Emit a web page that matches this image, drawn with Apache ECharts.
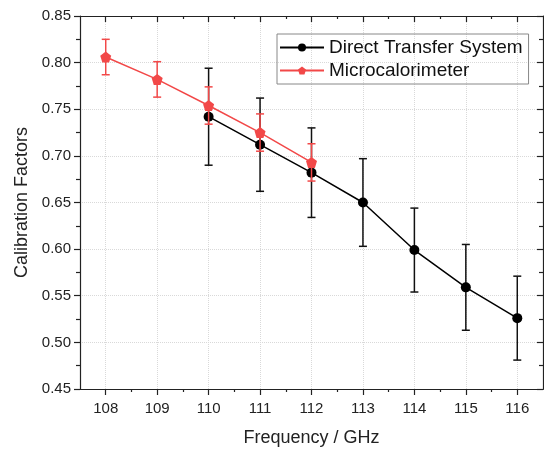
<!DOCTYPE html>
<html>
<head>
<meta charset="utf-8">
<script src="https://cdn.jsdelivr.net/npm/echarts@6/dist/echarts.min.js"></script>
<style>
  html, body { margin: 0; padding: 0; background: #fff; }
  #chart { width: 544px; height: 449px; }
</style>
</head>
<body>
<div id="chart"></div>
<script>
var myChart = echarts.init(document.getElementById('chart'));

// values
var xTicks = [108, 109, 110, 111, 112, 113, 114, 115, 116];
var xMinorTicks = [108.5, 109.5, 110.5, 111.5, 112.5, 113.5, 114.5, 115.5];

var dtsFreq = [110, 111, 112, 113, 114, 115, 116];
var dtsValue = [0.742, 0.712, 0.682, 0.650, 0.599, 0.559, 0.526];
var dtsError = [0.052, 0.050, 0.048, 0.047, 0.045, 0.046, 0.045];

var mcFreq = [108, 109, 110, 111, 112];
var mcValue = [0.806, 0.782, 0.754, 0.725, 0.693];
var mcError = [0.019, 0.019, 0.020, 0.020, 0.020];

var blackColor = '#000000';
var redColor = '#f24848';
var pentagon = 'path://M0,-1L0.951,-0.309L0.588,0.809L-0.588,0.809L-0.951,-0.309Z';
var font = 'Liberation Sans, Arial, sans-serif';

function pairs(xs, ys) {
    var out = [];
    for (var i = 0; i < xs.length; i++) {
        out.push([xs[i], ys[i]]);
    }
    return out;
}

function errRows(xs, ys, es) {
    var out = [];
    for (var i = 0; i < xs.length; i++) {
        out.push([xs[i], ys[i] - es[i], ys[i] + es[i]]);
    }
    return out;
}

function errorBarRenderer(color) {
    return function (params, api) {
        var lo = api.coord([api.value(0), api.value(1)]);
        var hi = api.coord([api.value(0), api.value(2)]);
        var half = 4;
        var style = {stroke: color, lineWidth: 1.5};
        return {
            type: 'group',
            children: [
                {type: 'line', shape: {x1: lo[0], y1: lo[1], x2: hi[0], y2: hi[1]}, style: style},
                {type: 'line', shape: {x1: lo[0] - half, y1: lo[1], x2: lo[0] + half, y2: lo[1]}, style: style},
                {type: 'line', shape: {x1: hi[0] - half, y1: hi[1], x2: hi[0] + half, y2: hi[1]}, style: style}
            ]
        };
    };
}

var axisLineStyle = {color: '#222', width: 1.2};
var gridLine = {show: true, lineStyle: {type: 'dotted', color: '#d9d9d9', width: 1}};

function xAxisBase(pos, inside, values, len, labels) {
    return {
        type: 'value',
        position: pos,
        min: 107.5,
        max: 116.5,
        axisLine: {show: true, onZero: false, lineStyle: axisLineStyle},
        axisTick: {show: true, inside: inside, length: len, customValues: values, lineStyle: {color: '#222', width: 1.2}},
        axisLabel: labels ? {
            show: true, customValues: values, margin: 12,
            color: '#222', fontSize: 15, fontFamily: font
        } : {show: false},
        splitLine: {show: false}
    };
}

function yAxisBase(pos, inside, labels) {
    return {
        type: 'value',
        position: pos,
        min: 0.45,
        max: 0.85,
        interval: 0.05,
        axisLine: {show: true, onZero: false, lineStyle: axisLineStyle},
        axisTick: {show: true, inside: inside, length: 6, lineStyle: {color: '#222', width: 1.2}},
        minorTick: {show: true, splitNumber: 2, length: 4, lineStyle: {color: '#222', width: 1.2}},
        axisLabel: labels ? {
            show: true, margin: 9, color: '#222', fontSize: 15, fontFamily: font,
            formatter: function (v) { return v.toFixed(2); }
        } : {show: false},
        splitLine: {show: false}
    };
}

var xMain = xAxisBase('bottom', false, xTicks, 6, true);
xMain.splitLine = gridLine;
xMain.name = 'Frequency / GHz';
xMain.nameLocation = 'middle';
xMain.nameGap = 40;
xMain.nameTextStyle = {color: '#222', fontSize: 18, fontFamily: font};

var yMain = yAxisBase('left', false, true);
yMain.splitLine = gridLine;
yMain.name = 'Calibration Factors';
yMain.nameLocation = 'middle';
yMain.nameGap = 47;
yMain.nameTextStyle = {color: '#222', fontSize: 18, fontFamily: font};

myChart.setOption({
    backgroundColor: '#fff',
    animation: false,
    grid: {left: 80, right: 1, top: 16, bottom: 60, containLabel: false, outerBoundsMode: 'none'},
    legend: {
        orient: 'vertical',
        left: 277,
        top: 34,
        padding: [4, 6, 4, 2],
        itemGap: 4,
        itemWidth: 44,
        itemHeight: 10,
        borderColor: '#888',
        borderWidth: 1,
        textStyle: {color: '#111', fontSize: 19, fontFamily: font, padding: [0, 0, 0, 0]},
        data: ['Direct Transfer System', 'Microcalorimeter']
    },
    xAxis: [
        xMain,
        xAxisBase('bottom', false, xMinorTicks, 3, false),
        xAxisBase('top', true, xTicks, 6, false),
        xAxisBase('top', true, xMinorTicks, 3, false)
    ],
    yAxis: [
        yMain,
        yAxisBase('right', true, false)
    ],
    series: [
        {
            name: 'DTS error',
            type: 'custom',
            renderItem: errorBarRenderer('#111'),
            encode: {x: 0, y: [1, 2]},
            data: errRows(dtsFreq, dtsValue, dtsError),
            z: 2
        },
        {
            name: 'Direct Transfer System',
            type: 'line',
            data: pairs(dtsFreq, dtsValue),
            symbol: 'circle',
            symbolSize: 10,
            itemStyle: {color: blackColor},
            lineStyle: {color: blackColor, width: 1.5},
            z: 3
        },
        {
            name: 'MC error',
            type: 'custom',
            renderItem: errorBarRenderer(redColor),
            encode: {x: 0, y: [1, 2]},
            data: errRows(mcFreq, mcValue, mcError),
            z: 4
        },
        {
            name: 'Microcalorimeter',
            type: 'line',
            data: pairs(mcFreq, mcValue),
            symbol: pentagon,
            symbolSize: 11,
            itemStyle: {color: redColor},
            lineStyle: {color: redColor, width: 1.5},
            z: 5
        }
    ]
});
</script>
</body>
</html>
